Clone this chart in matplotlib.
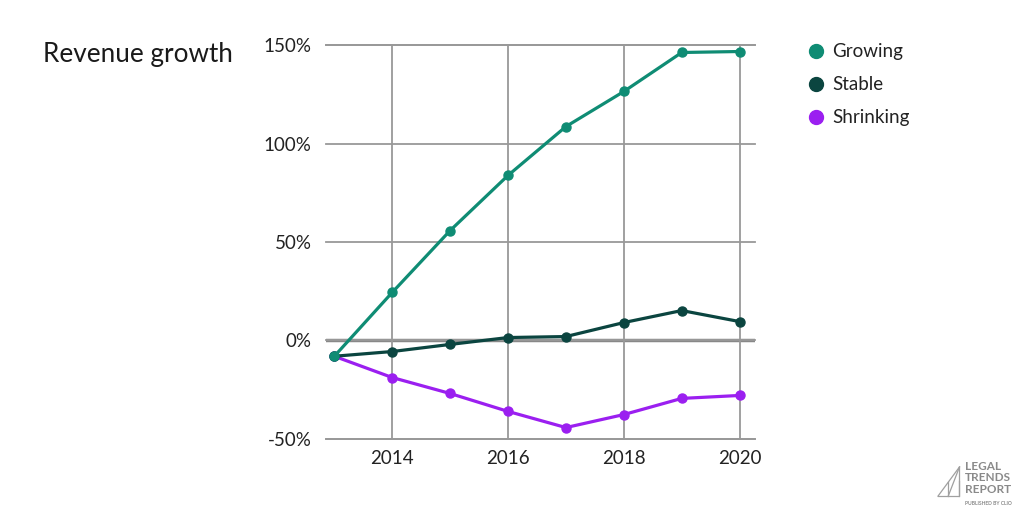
import matplotlib
matplotlib.use("Agg")
import matplotlib.pyplot as plt
from matplotlib.lines import Line2D

years = [2013, 2014, 2015, 2016, 2017, 2018, 2019, 2020]
growing = [-8, 24.4, 55.8, 83.8, 108.6, 126.4, 146.2, 146.7]
stable = [-8, -5.6, -2, 1.5, 2, 9.1, 15.2, 9.6]
shrinking = [-8, -18.8, -26.9, -36, -44.2, -37.6, -29.4, -27.9]
series_names = ["Growing", "Stable", "Shrinking"]
colors = ["#0f8c74", "#0b4540", "#9b1ff0"]
x_ticks = [2014, 2016, 2018, 2020]
y_ticks = [-50, 0, 50, 100, 150]
y_labels = ["-50%", "0%", "50%", "100%", "150%"]

plt.rcParams['font.family'] = ['Lato', 'DejaVu Sans']
fig = plt.figure(figsize=(10.24, 5.12), dpi=100)
ax = fig.add_axes([0.318, 0.1426, 0.419, 0.7695])
ax.set_xlim(2012.85, 2020.26)
ax.set_ylim(-50, 150)
for s in ax.spines.values():
    s.set_visible(False)
ax.set_xticks(x_ticks)
ax.set_yticks(y_ticks)
ax.set_yticklabels(y_labels)
ax.tick_params(length=0, labelsize=13.5, colors="#222222", pad=10)
ax.tick_params(axis='x', pad=8)
ax.grid(True, color="#999999", linewidth=1.3, clip_on=False)
ax.axhline(0, color="#888888", linewidth=2.5, zorder=1)
ax.axhline(-50, color="#999999", linewidth=1.3, zorder=1, clip_on=False)
ax.axhline(150, color="#999999", linewidth=1.3, zorder=1, clip_on=False)

for vals, c in zip([shrinking, stable, growing], [colors[2], colors[1], colors[0]]):
    ax.plot(years, vals, color=c, linewidth=2.3, marker='o', markersize=6.5, zorder=3, clip_on=False)

fig.text(0.042, 0.893, "Revenue growth", fontsize=18.8, color="#1a1a1a", va='center')

handles = [Line2D([], [], linestyle='none', marker='o', markersize=10, color=c) for c in colors]
fig.legend(handles, series_names, loc='upper left', bbox_to_anchor=(0.769, 0.948),
           frameon=False, fontsize=13.5, handletextpad=0.3, labelspacing=0.85, handlelength=1.2,
           labelcolor="#222222")

# logo
fig.text(0.942, 0.034, "LEGAL\nTRENDS\nREPORT", fontsize=8.5, fontweight='bold', color="#8a8a8a",
         ha='left', va='bottom', linespacing=1.05)
fig.text(0.942, 0.012, "PUBLISHED BY CLIO", fontsize=3.6, fontweight='bold', color="#8a8a8a",
         ha='left', va='bottom')
for x0, xv in [(0.916, 0.926), (0.926, 0.937)]:
    fig.add_artist(Line2D([x0, 0.937], [0.031, 0.088], transform=fig.transFigure,
                          color="#a0a0a0", linewidth=0.9))
    fig.add_artist(Line2D([xv, xv], [0.031, 0.031 + (xv - x0) / 0.021 * 0.057 if x0 != xv else 0.031],
                          transform=fig.transFigure, color="#a0a0a0", linewidth=0.9))
fig.add_artist(Line2D([0.916, 0.937, 0.937], [0.031, 0.031, 0.088], transform=fig.transFigure,
                      color="#a0a0a0", linewidth=0.9))

fig.savefig("out.png", dpi=100)
